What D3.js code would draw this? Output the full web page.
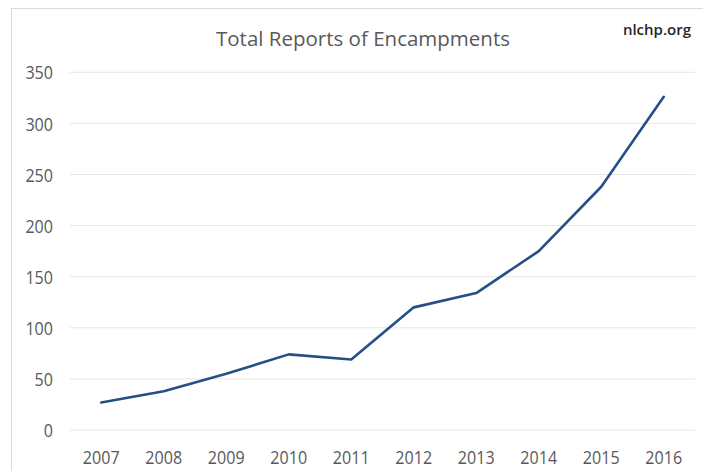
<!DOCTYPE html>
<html><head><meta charset="utf-8">
<script src="https://cdn.jsdelivr.net/npm/d3@7"></script>
<style>html,body{margin:0;padding:0;background:#fff;}svg{display:block;}</style>
</head><body>
<svg id="c" width="703" height="471"></svg>
<script>
const years = ["2007","2008","2009","2010","2011","2012","2013","2014","2015","2016"];
const reports = [27, 38, 55, 74, 69, 120, 134, 175, 238, 326];
const yTicks = [0, 50, 100, 150, 200, 250, 300, 350];
const title = "Total Reports of Encampments";
const source = "nlchp.org";

const svg = d3.select("#c");
const W = 703, H = 471;
const m = {left: 70, right: 8, top: 72.3, bottom: 41};
const FONT = "'Open Sans', sans-serif";
const SX = 0.87;

// outer frame
svg.append("rect").attr("x", 11.5).attr("y", 8.5).attr("width", W).attr("height", H)
  .attr("fill", "#fff").attr("stroke", "#d9d9d9").attr("stroke-width", 1);

const x = d3.scaleBand().domain(years).range([m.left, W - m.right]).padding(0);
const y = d3.scaleLinear().domain([0, 350]).range([H - m.bottom, m.top]);

// gridlines
svg.append("g").selectAll("line").data(yTicks).join("line")
  .attr("x1", m.left).attr("x2", W - m.right)
  .attr("y1", d => y(d)).attr("y2", d => y(d))
  .attr("stroke", "#e6e6e6").attr("stroke-width", 1);

// y axis labels
const yAxis = d3.axisLeft(y).tickValues(yTicks).tickSize(0).tickPadding(0);
const gy = svg.append("g").attr("transform", `translate(53,0)`).call(yAxis);
gy.select(".domain").remove();
gy.selectAll("text").attr("x", 0).attr("dy", "0.36em")
  .attr("transform", `scale(${SX},1)`)
  .attr("font-family", FONT).attr("font-size", 18.5).attr("fill", "#595959");

// x axis labels
const xAxis = d3.axisBottom(x).tickSize(0).tickPadding(0);
const gx = svg.append("g").attr("transform", `translate(0,464)`).call(xAxis);
gx.select(".domain").remove();
gx.selectAll("text").attr("y", 0).attr("dy", 0)
  .attr("transform", `scale(${SX},1)`)
  .attr("font-family", FONT).attr("font-size", 18.5).attr("fill", "#595959");

// line
const line = d3.line().x((d, i) => x(years[i]) + x.bandwidth() / 2).y(d => y(d));
svg.append("path").datum(reports).attr("d", line)
  .attr("fill", "none").attr("stroke", "#264f88").attr("stroke-width", 2.6)
  .attr("stroke-linejoin", "round").attr("stroke-linecap", "round");

// title
svg.append("text").attr("x", 363).attr("y", 46).attr("text-anchor", "middle")
  .attr("font-family", FONT).attr("font-size", 20.5)
  .attr("fill", "#595959").text(title);

svg.append("text").attr("x", 691).attr("y", 35).attr("text-anchor", "end")
  .attr("font-family", FONT).attr("font-size", 15).attr("font-weight", 600)
  .attr("fill", "#262626").text(source);
</script>
</body></html>
